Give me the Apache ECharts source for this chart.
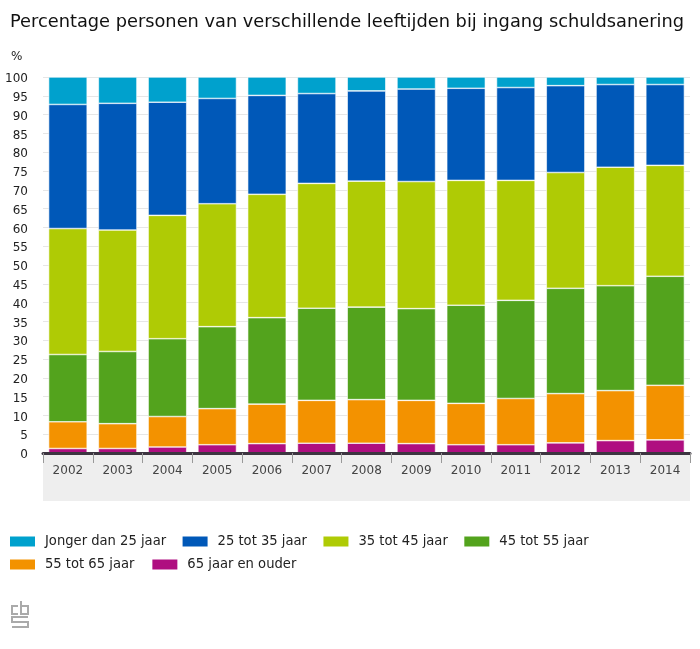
<!DOCTYPE html>
<html><head><meta charset="utf-8">
<style>html,body{margin:0;padding:0;background:#fff}#c{width:700px;height:649px}</style>
<script src="https://cdn.jsdelivr.net/npm/echarts@6/dist/echarts.min.js"></script></head>
<body><div id="c"></div>
<script>
const years=['2002','2003','2004','2005','2006','2007','2008','2009','2010','2011','2012','2013','2014'];
const v65plus=[1.2,1.2,1.6,2.2,2.5,2.6,2.6,2.5,2.2,2.2,2.7,3.3,3.5];
const v55=[7.1,6.6,8.1,9.6,10.5,11.4,11.6,11.5,11.0,12.3,13.1,13.3,14.5];
const v45=[17.9,19.2,20.7,21.8,23.0,24.5,24.6,24.4,26.1,26.1,28.0,27.9,29.0];
const v35=[33.5,32.3,32.8,32.7,32.8,33.2,33.5,33.8,33.2,31.9,30.8,31.5,29.5];
const v25=[33.0,33.7,30.1,28.0,26.3,23.9,24.0,24.6,24.5,24.7,23.1,22.0,21.5];
const vJong=[7.3,7.0,6.7,5.7,4.9,4.4,3.7,3.2,3.0,2.8,2.3,2.0,2.0];
const names=['Jonger dan 25 jaar','25 tot 35 jaar','35 tot 45 jaar','45 tot 55 jaar','55 tot 65 jaar','65 jaar en ouder'];
const title='Percentage personen van verschillende leeftijden bij ingang schuldsanering';
const yTicks=5, yMax=100;
const font='"DejaVu Sans", sans-serif';
const cond='"DejaVu Sans Condensed", "DejaVu Sans", sans-serif';
const stackOrder=[[names[5],v65plus,'#af0e80'],[names[4],v55,'#f39200'],[names[3],v45,'#53a31d'],[names[2],v35,'#afcb05'],[names[1],v25,'#0058b8'],[names[0],vJong,'#00a1cd']];
const logo='#aaaaaa';
const legendBase={left:10,padding:0,width:680,itemWidth:25,itemHeight:10,icon:'rect',itemStyle:{borderWidth:0},
  textStyle:{fontFamily:cond,fontSize:14.6,color:'#222',padding:[0,0,0,5]},selectedMode:false};
const chart=echarts.init(document.getElementById('c'),null,{renderer:'canvas'});
chart.setOption({
 animation:false,backgroundColor:'#fff',
 title:{text:title,left:5,top:8,textStyle:{fontFamily:font,fontSize:17.8,fontWeight:'normal',color:'#111'}},
 legend:[
  Object.assign({},legendBase,{top:534,itemGap:16.5,data:names.slice(0,4)}),
  Object.assign({},legendBase,{top:557,itemGap:18,data:names.slice(4)})
 ],
 grid:{left:43,right:10,top:77,bottom:196,containLabel:false},
 graphic:[
  {type:'rect',z:-1,silent:true,shape:{x:43,y:453,width:647,height:48},style:{fill:'#eeeeee'}},
  {type:'text',x:11,y:51,style:{text:'%',font:'12px '+font,fill:'#222'}},
  {type:'group',x:11,y:601,children:[
    {type:'polyline',shape:{points:[[7,5],[1,5],[1,13],[7,13]]},style:{fill:'none',stroke:logo,lineWidth:2}},
    {type:'polyline',shape:{points:[[10,0],[10,13],[17,13],[17,5],[10,5]]},style:{fill:'none',stroke:logo,lineWidth:2}},
    {type:'polyline',shape:{points:[[17,16],[1,16],[1,21],[17,21],[17,26],[1,26]]},style:{fill:'none',stroke:logo,lineWidth:2}}
  ]}
 ],
 xAxis:{type:'category',z:5,data:years,axisLine:{lineStyle:{color:'#3c3540',width:3}},
  axisTick:{show:true,length:10,alignWithLabel:false,lineStyle:{color:'#999',width:1}},
  axisLabel:{fontFamily:font,fontSize:12,color:'#444',margin:12},splitLine:{show:false}},
 yAxis:{type:'value',min:0,max:yMax,interval:yTicks,axisLine:{show:false},axisTick:{show:false},
  axisLabel:{fontFamily:font,fontSize:12,color:'#222',margin:15,verticalAlign:'top',lineHeight:4},
  splitLine:{lineStyle:{color:'#e6e6e6',width:1}}},
 series:stackOrder.map(([n,d,c])=>({name:n,type:'bar',stack:'a',data:d,barWidth:38.6,itemStyle:{color:c,borderColor:'#fff',borderWidth:0.6},
   emphasis:{disabled:true}}))
});
</script></body></html>
